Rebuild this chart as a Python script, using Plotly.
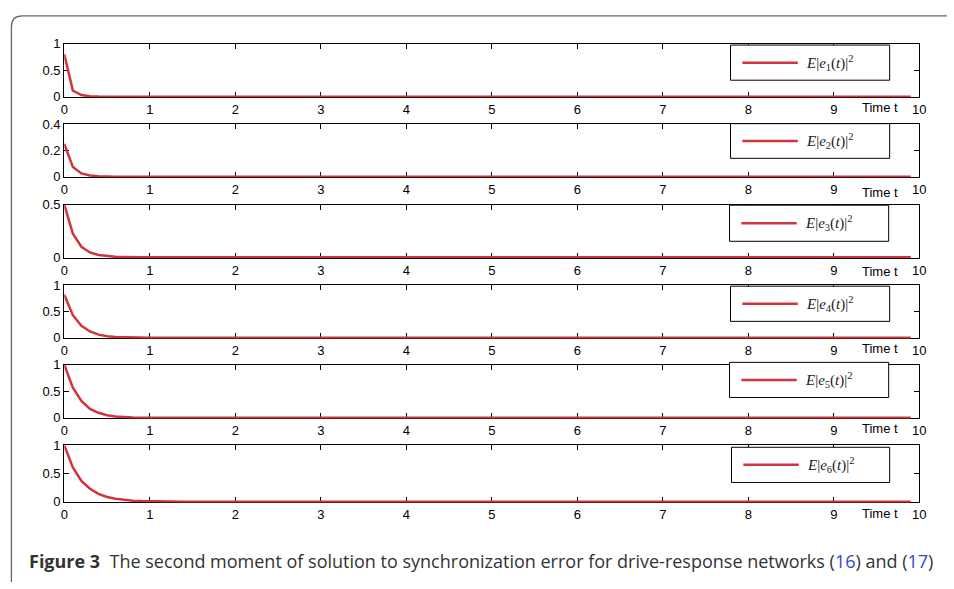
import plotly.graph_objects as go

W, H = 954, 589

# ---- data ----
t1 = [0, 0.1, 0.2, 0.3, 0.4, 0.5, 9.9]
e1 = [0.8, 0.115, 0.03, 0.006, 0.001, 0.0, 0.0]

t2 = [0, 0.1, 0.2, 0.3, 0.4, 0.5, 0.6, 9.9]
e2 = [0.25, 0.075, 0.025, 0.009, 0.003, 0.001, 0.0, 0.0]

t3 = [0, 0.1, 0.2, 0.3, 0.4, 0.5, 0.6, 0.7, 0.8, 0.9, 9.9]
e3 = [0.5, 0.225, 0.1, 0.046, 0.021, 0.01, 0.004, 0.002, 0.001, 0.0, 0.0]

t4 = [0, 0.1, 0.2, 0.3, 0.4, 0.5, 0.6, 0.7, 0.8, 0.9, 1.0, 1.1, 9.9]
e4 = [0.82, 0.43, 0.23, 0.12, 0.06, 0.03, 0.015, 0.008, 0.004, 0.002, 0.001, 0.0, 0.0]

t5 = [0, 0.1, 0.2, 0.3, 0.4, 0.5, 0.6, 0.7, 0.8, 0.9, 1.0, 1.1, 1.2, 9.9]
e5 = [1.0, 0.57, 0.32, 0.17, 0.095, 0.05, 0.027, 0.014, 0.007, 0.004, 0.002, 0.001, 0.0, 0.0]

t6 = [0, 0.1, 0.2, 0.3, 0.4, 0.5, 0.6, 0.7, 0.8, 0.9, 1.0, 1.1, 1.2, 1.3, 1.4, 9.9]
e6 = [1.0, 0.61, 0.37, 0.23, 0.14, 0.085, 0.052, 0.032, 0.019, 0.012, 0.007, 0.004, 0.002, 0.001, 0.0, 0.0]

series_t = [t1, t2, t3, t4, t5, t6]
series_e = [e1, e2, e3, e4, e5, e6]
legend_names = [
    "<i>E</i>|<i>e</i><sub>1</sub>(<i>t</i>)|<sup>2</sup>",
    "<i>E</i>|<i>e</i><sub>2</sub>(<i>t</i>)|<sup>2</sup>",
    "<i>E</i>|<i>e</i><sub>3</sub>(<i>t</i>)|<sup>2</sup>",
    "<i>E</i>|<i>e</i><sub>4</sub>(<i>t</i>)|<sup>2</sup>",
    "<i>E</i>|<i>e</i><sub>5</sub>(<i>t</i>)|<sup>2</sup>",
    "<i>E</i>|<i>e</i><sub>6</sub>(<i>t</i>)|<sup>2</sup>",
]
y_max = [1, 0.4, 0.5, 1, 1, 1]
y_ticks = [[0, 0.5, 1], [0, 0.2, 0.4], [0, 0.5], [0, 0.5, 1], [0, 0.5, 1], [0, 0.5, 1]]
y_ticktext = [["0", "0.5", "1"], ["0", "0.2", "0.4"], ["0", "0.5"],
              ["0", "0.5", "1"], ["0", "0.5", "1"], ["0", "0.5", "1"]]
x_ticks = list(range(0, 11))
caption = ("<b>Figure 3</b>  The second moment of solution to synchronization error for "
           "drive-response networks (<span style='color:#3a46d6'>16</span>) and "
           "(<span style='color:#3a46d6'>17</span>)")

# ---- layout geometry (pixels) ----
def px(x):
    return x / W

def py(y):
    return 1 - y / H

panel_px = [(37.5, 92.5), (120, 174.5), (202.5, 257), (285, 339.5), (366.5, 421.5), (449, 507.5)]
legend_px = [(735, 39, 896, 75), (735, 119.5, 896, 155), (734, 203, 895, 240),
             (735, 286, 896, 322), (734, 364, 895, 400), (736, 451, 896, 487)]
timet_y = [102.5, 190, 270.5, 350, 431.5, 519]
x_left, x_right = 61, 926
RED = "#d0343e"

fig = go.Figure()
shapes = []
annotations = []
for i in range(6):
    n = i + 1
    xa = "x" if n == 1 else f"x{n}"
    ya = "y" if n == 1 else f"y{n}"
    fig.add_trace(go.Scatter(x=series_t[i], y=series_e[i], mode="lines",
                             line=dict(color=RED, width=2.5), xaxis=xa, yaxis=ya,
                             showlegend=False, name=legend_names[i]))
    top, bot = panel_px[i]
    axis_common = dict(showline=True, linecolor="black", linewidth=1.3, mirror="ticks",
                       ticks="inside", ticklen=5, tickwidth=1, tickcolor="black",
                       showgrid=False, zeroline=False, layer="below traces",
                       tickfont=dict(family="Liberation Sans, Arial", size=13, color="black"))
    fig.layout[("xaxis" if n == 1 else f"xaxis{n}")] = dict(
        domain=[px(x_left), px(x_right)], range=[0, 10], anchor=ya,
        tickvals=x_ticks, ticktext=[str(v) for v in x_ticks], **axis_common)
    fig.layout[("yaxis" if n == 1 else f"yaxis{n}")] = dict(
        domain=[py(bot), py(top)], range=[-0.012 * y_max[i], y_max[i]], anchor=xa,
        tickvals=y_ticks[i], ticktext=y_ticktext[i], **axis_common)

    # legend box drawn in each panel
    lx0, ly0, lx1, ly1 = legend_px[i]
    cy = (ly0 + ly1) / 2
    shapes.append(dict(type="rect", xref="paper", yref="paper",
                       x0=px(lx0), x1=px(lx1), y0=py(ly1), y1=py(ly0),
                       line=dict(color="black", width=1), fillcolor="white", layer="above"))
    shapes.append(dict(type="line", xref="paper", yref="paper",
                       x0=px(lx0 + 12), x1=px(lx0 + 68), y0=py(cy), y1=py(cy),
                       line=dict(color=RED, width=2.5), layer="above"))
    annotations.append(dict(xref="paper", yref="paper", x=px(lx0 + 74), y=py(cy),
                            xanchor="left", yanchor="middle", showarrow=False,
                            text=legend_names[i],
                            font=dict(family="Liberation Serif, DejaVu Serif", size=15, color="#222")))
    annotations.append(dict(xref="paper", yref="paper", x=px(886), y=py(timet_y[i]),
                            xanchor="center", yanchor="middle", showarrow=False,
                            text="Time t",
                            font=dict(family="Liberation Sans, Arial", size=13, color="black")))

# outer frame with rounded top-left corner
frame = (f"M {px(7.5)},{py(589)} L {px(7.5)},{py(20)} "
         f"Q {px(7.5)},{py(9)} {px(18.5)},{py(9)} L {px(954)},{py(9)}")
shapes.append(dict(type="path", xref="paper", yref="paper", path=frame,
                   line=dict(color="#666666", width=1.3), layer="above"))

annotations.append(dict(xref="paper", yref="paper", x=px(23), y=py(568),
                        xanchor="left", yanchor="middle", showarrow=False, text=caption,
                        font=dict(family="Open Sans, Noto Sans", size=18, color="#333333")))

fig.update_layout(autosize=True,
                  margin=dict(l=0, r=0, t=0, b=0),
                  paper_bgcolor="white", plot_bgcolor="white",
                  shapes=shapes, annotations=annotations, showlegend=False)

fig.write_html("out.html",
               config={"displayModeBar": False, "responsive": True},
               default_width="100vw", default_height="100vh",
               post_script="document.body.style.margin='0';"
                           "document.documentElement.style.overflow='hidden';"
                           "window.dispatchEvent(new Event('resize'));")
